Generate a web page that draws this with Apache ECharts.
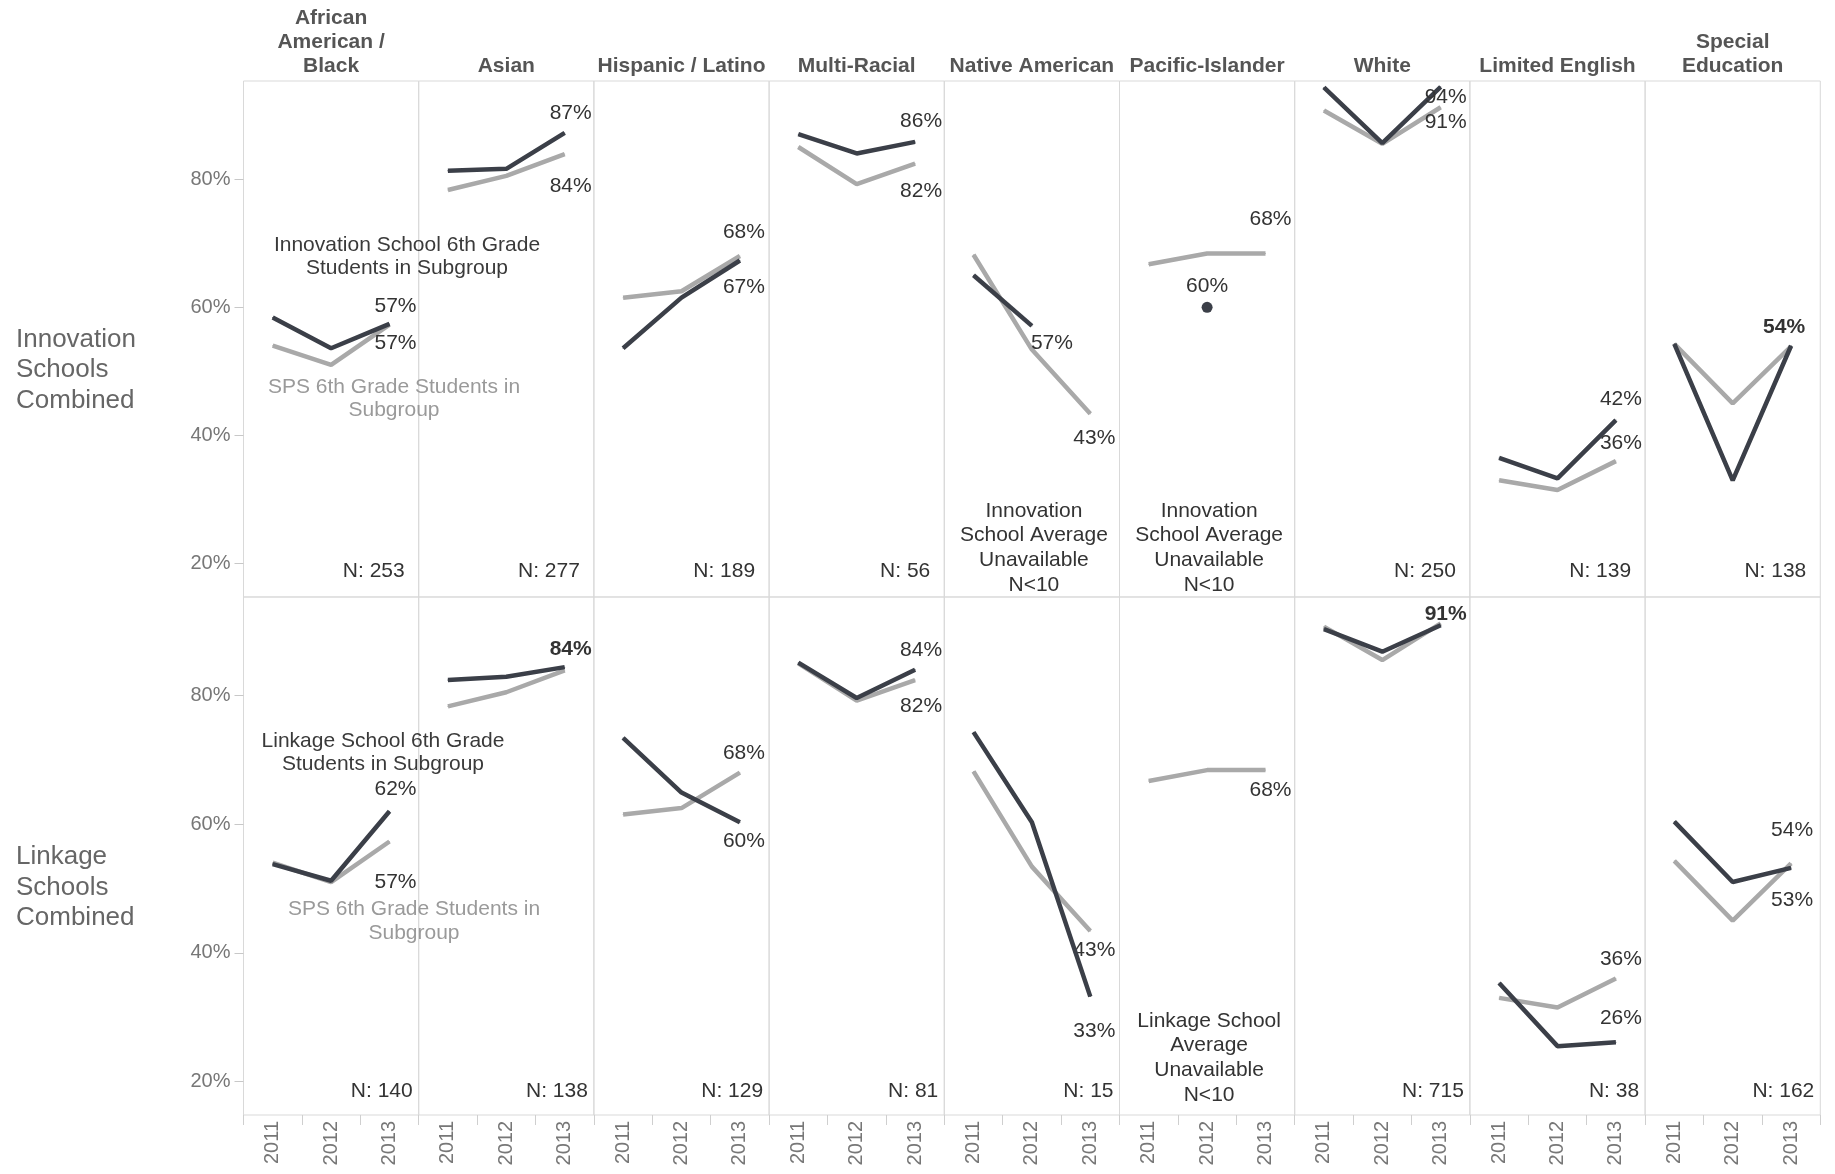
<!DOCTYPE html>
<html>
<head>
<meta charset="utf-8">
<script src="https://cdn.jsdelivr.net/npm/echarts@6/dist/echarts.min.js"></script>
<style>
html,body{margin:0;padding:0;background:#fff;}
#chart{width:1835px;height:1174px;}
</style>
</head>
<body>
<div id="chart"></div>
<script>
// ---------------- DATA ----------------
const years = ['2011', '2012', '2013'];
const subgroups = ['African\nAmerican /\nBlack', 'Asian', 'Hispanic / Latino', 'Multi-Racial',
  'Native American', 'Pacific-Islander', 'White', 'Limited English', 'Special\nEducation'];
const rowNames = ['Innovation\nSchools\nCombined', 'Linkage\nSchools\nCombined'];
const yTickValues = [20, 40, 60, 80];

// SPS 6th grade students in subgroup (grey line, same in both rows)
const spsValues = [
  [54.0, 51.0, 57.3],
  [78.3, 80.5, 83.9],
  [61.5, 62.5, 68.0],
  [85.0, 79.2, 82.4],
  [68.2, 53.4, 43.4],
  [66.7, 68.4, 68.4],
  [90.7, 85.5, 91.2],
  [33.0, 31.5, 36.0],
  [54.3, 45.0, 53.9]
];
// Innovation school 6th grade students in subgroup (dark line, top row)
const innovationValues = [
  [58.4, 53.6, 57.4],
  [81.3, 81.6, 87.2],
  [53.6, 61.5, 67.3],
  [87.0, 84.0, 85.8],
  [65.0, 57.1, null],
  [null, 60.0, null],
  [94.3, 85.6, 94.4],
  [36.5, 33.3, 42.4],
  [54.3, 33.0, 54.0]
];
// Linkage school 6th grade students in subgroup (dark line, bottom row)
const linkageValues = [
  [53.8, 51.2, 62.0],
  [82.4, 82.9, 84.4],
  [73.4, 64.9, 60.3],
  [85.1, 79.6, 84.0],
  [74.3, 60.3, 33.2],
  [null, null, null],
  [90.3, 86.8, 90.9],
  [35.3, 25.5, 26.1],
  [60.4, 51.0, 53.2]
];
const innovationN = ['N: 253', 'N: 277', 'N: 189', 'N: 56', null, null, 'N: 250', 'N: 139', 'N: 138'];
const linkageN = ['N: 140', 'N: 138', 'N: 129', 'N: 81', 'N: 15', null, 'N: 715', 'N: 38', 'N: 162'];
const unavailableNotes = [
  [0, 4, 'Innovation\nSchool Average\nUnavailable\nN<10'],
  [0, 5, 'Innovation\nSchool Average\nUnavailable\nN<10'],
  [1, 5, 'Linkage School\nAverage\nUnavailable\nN<10']
];
const legendNotes = [
  ['Innovation School 6th Grade\nStudents in Subgroup', 'school', 0],
  ['SPS 6th Grade Students in\nSubgroup', 'sps', 0],
  ['Linkage School 6th Grade\nStudents in Subgroup', 'school', 1],
  ['SPS 6th Grade Students in\nSubgroup', 'sps', 1]
];

// ---------------- LAYOUT / STYLE ----------------
// label placement: [row, col, line, pointIndex, dx, dy, bold]
const labelPlacement = [
  [0,0,'school',2,6,-18],[0,0,'sps',2,6,19],
  [0,1,'school',2,6,-20],[0,1,'sps',2,6,32],
  [0,2,'sps',2,4,-24],[0,2,'school',2,4,27],
  [0,3,'school',2,6,-21],[0,3,'sps',2,6,28],
  [0,4,'school',1,20,17],[0,4,'sps',2,4,25],
  [0,5,'sps',2,5,-34],[0,5,'school',1,0,-21],
  [0,6,'school',2,5,10],[0,6,'sps',2,5,15],
  [0,7,'school',2,5,-21],[0,7,'sps',2,5,-18],
  [0,8,'school',2,-7,-19,true],
  [1,0,'school',2,6,-22],[1,0,'sps',2,6,41],
  [1,1,'school',2,6,-18,true],
  [1,2,'sps',2,4,-19],[1,2,'school',2,4,19],
  [1,3,'school',2,6,-20],[1,3,'sps',2,6,26],
  [1,4,'sps',2,4,19],[1,4,'school',2,4,35],
  [1,5,'sps',2,5,20],
  [1,6,'school',2,5,-11,true],
  [1,7,'sps',2,5,-19],[1,7,'school',2,5,-24],
  [1,8,'sps',2,1,-33],[1,8,'school',2,1,32]
];
const legendPos = [[407, 256.5], [394, 398.5], [383, 752.5], [414, 921]];

const L0 = 243.5, PW = 175.2;
const ROW_TOP = [81, 597], ROW_H = [516, 518];
const YMIN = 14.8, YMAX = 95.3;
const DARK = '#3b3f48', LIGHT = '#a9a9a9';
const FONT = '"Liberation Sans", Arial, sans-serif';
const BORDER = '#d9d9d9';

const chart = echarts.init(document.getElementById('chart'));
const grids = [], xAxes = [], yAxes = [], series = [], graphics = [];
const schoolRows = [innovationValues, linkageValues];
const nRows = [innovationN, linkageN];

function findLabel(row, col, which, idx) {
  return labelPlacement.find(p => p[0] === row && p[1] === col && p[2] === which && p[3] === idx);
}
function buildData(vals, row, col, which) {
  return vals.map((v, i) => {
    if (v == null) return null;
    const item = { value: v };
    const isolated = (i === 0 || vals[i - 1] == null) && (i === vals.length - 1 || vals[i + 1] == null);
    if (isolated) item.symbolSize = 11;
    const lp = findLabel(row, col, which, i);
    if (lp) {
      item.label = {
        show: true, position: 'inside', offset: [lp[4], lp[5]],
        color: '#333', fontSize: 21, fontFamily: FONT,
        fontWeight: lp[6] ? 'bold' : 'normal',
        align: 'center', verticalAlign: 'middle'
      };
    }
    return item;
  });
}

for (let r = 0; r < 2; r++) {
  for (let c = 0; c < subgroups.length; c++) {
    const gi = grids.length;
    grids.push({
      left: L0 + c * PW, top: ROW_TOP[r], width: PW, height: ROW_H[r],
      show: true, borderColor: BORDER, borderWidth: 1, backgroundColor: 'transparent',
      containLabel: false, outerBoundsMode: 'none'
    });
    const bottomRow = r === 1;
    xAxes.push({
      type: 'category', gridIndex: gi, data: years, boundaryGap: true,
      axisLine: { show: false },
      axisTick: { show: bottomRow, length: 10, lineStyle: { color: '#cfcfcf' } },
      axisLabel: { show: bottomRow, rotate: 90, margin: 6, color: '#777', fontSize: 20, fontFamily: FONT },
      splitLine: { show: false }
    });
    const firstCol = c === 0;
    yAxes.push({
      type: 'value', gridIndex: gi, min: YMIN, max: YMAX,
      axisLine: { show: false },
      splitLine: { show: false },
      axisTick: { show: firstCol, customValues: yTickValues, length: 9, lineStyle: { color: '#c8c8c8' } },
      axisLabel: { show: firstCol, customValues: yTickValues, formatter: '{value}%', margin: 13,
        color: '#777', fontSize: 20, fontFamily: FONT }
    });
    const lineBase = {
      type: 'line', xAxisIndex: gi, yAxisIndex: gi, symbol: 'circle', symbolSize: 1,
      showSymbol: true, showAllSymbol: true, animation: false, silent: true,
      label: { show: false, formatter: p => Math.round(p.value) + '%', color: '#333', fontSize: 21, fontFamily: FONT },
      emphasis: { disabled: true }
    };
    series.push(Object.assign({}, lineBase, {
      name: 'SPS', z: 2,
      lineStyle: { color: LIGHT, width: 4.5 }, itemStyle: { color: LIGHT },
      data: buildData(spsValues[c], r, c, 'sps')
    }));
    series.push(Object.assign({}, lineBase, {
      name: r === 0 ? 'Innovation' : 'Linkage', z: 3,
      lineStyle: { color: DARK, width: 4.5 }, itemStyle: { color: DARK },
      data: buildData(schoolRows[r][c], r, c, 'school')
    }));
    // N labels
    const nText = nRows[r][c];
    if (nText) {
      graphics.push({
        type: 'text', x: L0 + (c + 1) * PW - (r === 0 ? 14 : 6), y: r === 0 ? 571.5 : 1091,
        silent: true,
        style: { text: nText, fill: '#333', font: '21px ' + FONT, align: 'right', verticalAlign: 'middle' }
      });
    }
  }
}

// column headers
subgroups.forEach((s, c) => {
  graphics.push({
    type: 'text', x: L0 + (c + 0.5) * PW, y: 78.5, silent: true,
    style: { text: s, fill: '#555', font: 'bold 21px ' + FONT, align: 'center', verticalAlign: 'bottom', lineHeight: 24 }
  });
});
// row headers
rowNames.forEach((s, r) => {
  graphics.push({
    type: 'text', x: 16, y: r === 0 ? 370 : 887.5, silent: true,
    style: { text: s, fill: '#666', font: '26px ' + FONT, align: 'left', verticalAlign: 'middle', lineHeight: 30.4 }
  });
});
// unavailable notes
unavailableNotes.forEach(([r, c, t]) => {
  graphics.push({
    type: 'text', x: L0 + (c + 0.5) * PW + 2, y: r === 0 ? 548 : 1058, silent: true,
    style: { text: t, fill: '#333', font: '21px ' + FONT, align: 'center', verticalAlign: 'middle', lineHeight: 24.6 }
  });
});
// in-chart legend notes
legendNotes.forEach(([t, which], i) => {
  graphics.push({
    type: 'text', x: legendPos[i][0], y: legendPos[i][1], silent: true,
    style: { text: t, fill: which === 'sps' ? '#9a9a9a' : '#3a3a3a', font: '21px ' + FONT,
      align: 'center', verticalAlign: 'middle', lineHeight: 23.5 }
  });
});

chart.setOption({
  animation: false,
  backgroundColor: '#fff',
  grid: grids, xAxis: xAxes, yAxis: yAxes, series: series,
  graphic: graphics
});
</script>
</body>
</html>
